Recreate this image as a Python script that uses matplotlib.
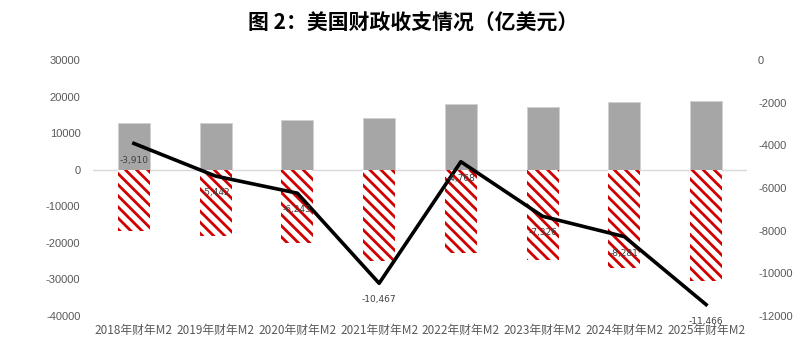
import matplotlib
matplotlib.use('Agg')
import matplotlib.pyplot as plt
import numpy as np

plt.rcParams['font.family'] = ['Liberation Sans', 'Noto Sans CJK SC', 'DejaVu Sans']
plt.rcParams['hatch.linewidth'] = 2.0
plt.rcParams['axes.unicode_minus'] = False

# 数据
years = ['2018年财年M2', '2019年财年M2', '2020年财年M2', '2021年财年M2',
         '2022年财年M2', '2023年财年M2', '2024年财年M2', '2025年财年M2']
receipts = [12800, 12800, 13600, 14150, 17970, 17230, 18500, 18790]
outlays = [-16860, -18230, -20050, -24880, -22790, -24790, -26890, -30350]
deficit = [-3910, -5442, -6243, -10467, -4768, -7326, -8281, -11466]
deficit_labels = ['-3,910', '-5,442', '-6,243', '-10,467', '-4,768', '-7,326', '-8,281', '-11,466']

fig = plt.figure(figsize=(8.11, 3.61), dpi=100)
ax = fig.add_axes([93 / 811, 1 - 316 / 361, (747 - 93) / 811, (316 - 60) / 361])
x = np.arange(len(years))
w = 0.39

ax.bar(x, receipts, w, color='#A6A6A6', edgecolor='#D0D0D0', linewidth=0.6, zorder=2)
ax.bar(x, outlays, w, color='white', edgecolor='#D00000', hatch='\\\\\\', linewidth=0, zorder=2)
ax.axhline(0, color='#D9D9D9', linewidth=1, zorder=1)

ax.set_xlim(-0.5, len(years) - 0.5)
ax.set_ylim(-40000, 30000)
ax.set_yticks(range(-40000, 30001, 10000))
ax.set_xticks(x)
ax.set_xticklabels(years, family=['Noto Sans CJK SC'], fontsize=8.5, color='#595959')
ax.tick_params(axis='x', length=0, pad=6)
ax.tick_params(axis='y', length=0, pad=9, labelsize=8, labelcolor='#595959')
for s in ax.spines.values():
    s.set_visible(False)

ax2 = ax.twinx()
ax2.set_ylim(-12000, 0)
ax2.set_yticks(range(-12000, 1, 2000))
ax2.tick_params(axis='y', length=0, pad=8, labelsize=8, labelcolor='#595959')
for s in ax2.spines.values():
    s.set_visible(False)
ax2.plot(x, deficit, color='black', linewidth=2.6, zorder=3)
for xi, v, t in zip(x, deficit, deficit_labels):
    ax2.annotate(t, (xi, v), xytext=(0, -12), textcoords='offset points',
                 ha='center', va='center', fontsize=6.5, color='#404040',
                 family=['DejaVu Sans'])

fig.text(0.51, 0.935, '图 2：美国财政收支情况（亿美元）', ha='center', va='center',
         fontsize=15, fontweight='bold', family=['Noto Sans CJK SC'])

fig.savefig('out.png', dpi=100)
